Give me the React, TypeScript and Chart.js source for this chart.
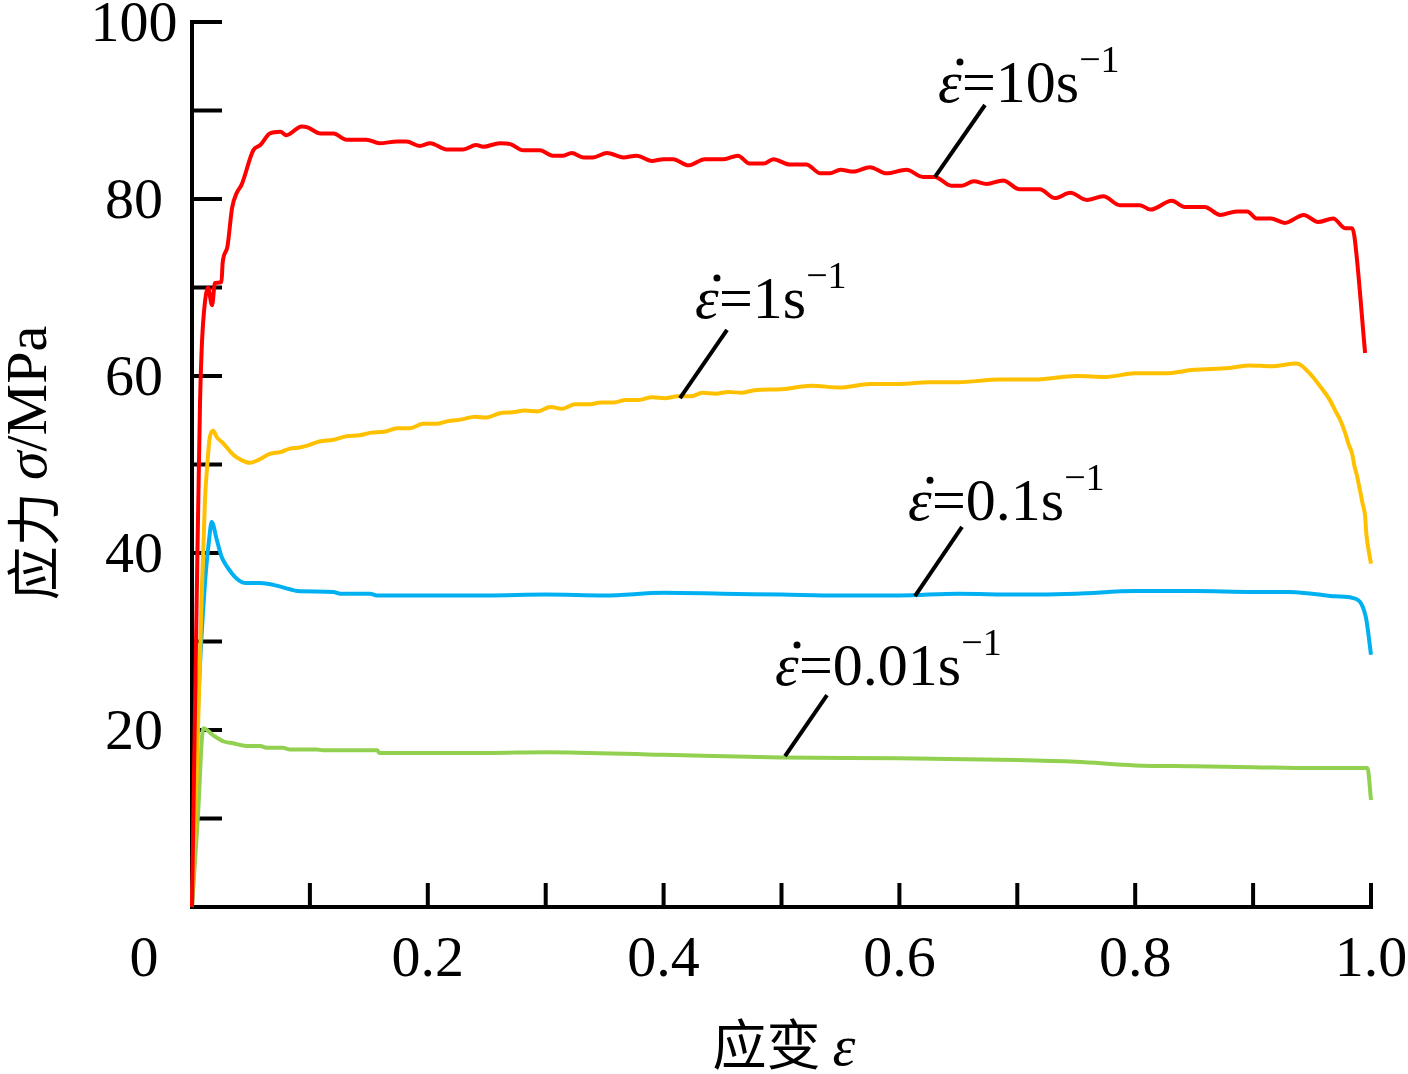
import { useEffect, useRef } from 'react';
import { Chart, registerables, Plugin } from 'chart.js';

Chart.register(...registerables);

// strain / stress pairs
const strain10 = [0, 0.004, 0.0068, 0.0082, 0.010, 0.0136, 0.017, 0.0195, 0.025, 0.026, 0.030, 0.034, 0.038, 0.042, 0.052, 0.058, 0.066, 0.075, 0.080, 0.093, 0.098, 0.109, 0.120, 0.131, 0.148, 0.159, 0.174, 0.182, 0.193, 0.202, 0.216, 0.230, 0.241, 0.247, 0.261, 0.270, 0.281, 0.295, 0.306, 0.315, 0.322, 0.332, 0.340, 0.352, 0.366, 0.377, 0.390, 0.400, 0.408, 0.421, 0.435, 0.451, 0.463, 0.473, 0.485, 0.493, 0.507, 0.521, 0.533, 0.541, 0.550, 0.561, 0.575, 0.589, 0.606, 0.620, 0.630, 0.644, 0.653, 0.663, 0.674, 0.688, 0.702, 0.719, 0.732, 0.745, 0.759, 0.773, 0.787, 0.804, 0.813, 0.831, 0.842, 0.859, 0.872, 0.886, 0.895, 0.903, 0.915, 0.927, 0.943, 0.955, 0.968, 0.978, 0.984, 0.986, 0.995];
const stress10 = [0, 35, 57, 63, 67, 70, 68, 70.5, 70.6, 72.8, 74.6, 79, 80.7, 81.6, 85.5, 86.1, 87.4, 87.6, 87.2, 88.2, 88.1, 87.4, 87.4, 86.7, 86.7, 86.3, 86.5, 86.5, 86.0, 86.3, 85.6, 85.6, 86.1, 85.9, 86.3, 86.2, 85.5, 85.5, 84.9, 84.9, 85.2, 84.7, 84.7, 85.2, 84.7, 84.9, 84.3, 84.5, 84.5, 83.8, 84.5, 84.5, 84.9, 84.0, 84.0, 84.5, 83.9, 83.9, 82.9, 82.9, 83.3, 83.1, 83.6, 82.9, 83.3, 82.5, 82.5, 81.5, 81.5, 82.0, 81.7, 82.1, 81.1, 81.1, 80.1, 80.7, 79.9, 80.3, 79.3, 79.3, 78.8, 79.8, 79.1, 79.1, 78.2, 78.6, 78.6, 77.8, 77.8, 77.3, 78.2, 77.4, 77.8, 76.7, 76.7, 75.7, 62.6];

const strain1 = [0, 0.004, 0.008, 0.011, 0.013, 0.015, 0.018, 0.021, 0.0265, 0.035, 0.042, 0.049, 0.056, 0.066, 0.075, 0.083, 0.090, 0.097, 0.108, 0.12, 0.131, 0.142, 0.152, 0.163, 0.174, 0.185, 0.196, 0.207, 0.217, 0.229, 0.240, 0.250, 0.261, 0.272, 0.282, 0.293, 0.304, 0.314, 0.325, 0.336, 0.347, 0.358, 0.368, 0.379, 0.390, 0.401, 0.412, 0.423, 0.433, 0.444, 0.455, 0.466, 0.477, 0.5, 0.525, 0.55, 0.575, 0.6, 0.625, 0.65, 0.685, 0.715, 0.75, 0.775, 0.8, 0.825, 0.85, 0.88, 0.897, 0.915, 0.937, 0.948, 0.957, 0.965, 0.970, 0.974, 0.978, 0.981, 0.984, 0.986, 0.988, 0.990, 0.993, 0.995, 0.996, 0.998, 1.0];
const stress1 = [0, 15, 34, 46, 50, 53, 53.8, 53.1, 52.4, 51.1, 50.5, 50.2, 50.5, 51.2, 51.4, 51.8, 51.9, 52.1, 52.6, 52.8, 53.2, 53.3, 53.6, 53.7, 54.1, 54.1, 54.6, 54.6, 54.9, 55.1, 55.4, 55.3, 55.8, 55.9, 56.1, 56.0, 56.5, 56.3, 56.8, 56.8, 57.0, 57.0, 57.3, 57.3, 57.6, 57.5, 57.7, 57.7, 58.1, 58.0, 58.2, 58.1, 58.4, 58.5, 58.9, 58.7, 59.1, 59.1, 59.3, 59.3, 59.6, 59.6, 60.0, 59.9, 60.3, 60.3, 60.7, 60.9, 61.2, 61.1, 61.4, 60.3, 58.8, 57.3, 56.0, 55.0, 53.6, 52.3, 51.2, 49.8, 48.8, 47.5, 45.5, 44.2, 42.2, 40.3, 38.8];

const strain01 = [0, 0.001, 0.0054, 0.011, 0.0145, 0.0167, 0.021, 0.025, 0.029, 0.038, 0.046, 0.058, 0.069, 0.083, 0.089, 0.12, 0.126, 0.151, 0.157, 0.25, 0.3, 0.35, 0.4, 0.45, 0.5, 0.55, 0.6, 0.65, 0.7, 0.75, 0.8, 0.85, 0.9, 0.93, 0.95, 0.97, 0.985, 0.992, 0.996, 1.0];
const stress01 = [0, 4.6, 23.4, 36.6, 41.5, 43.5, 41.5, 39.6, 38.6, 37.1, 36.6, 36.6, 36.4, 35.9, 35.7, 35.6, 35.4, 35.4, 35.2, 35.2, 35.3, 35.2, 35.5, 35.4, 35.3, 35.2, 35.2, 35.4, 35.3, 35.4, 35.7, 35.7, 35.6, 35.6, 35.4, 35.1, 34.9, 34.2, 32.5, 28.5];

const strain001 = [0, 0.005, 0.0096, 0.018, 0.027, 0.035, 0.046, 0.058, 0.063, 0.077, 0.083, 0.106, 0.111, 0.157, 0.159, 0.25, 0.3, 0.4, 0.5, 0.6, 0.7, 0.75, 0.8, 0.85, 0.9, 0.95, 0.997, 1.0];
const stress001 = [0, 10.2, 20.2, 19.4, 18.7, 18.5, 18.2, 18.2, 18.0, 18.0, 17.8, 17.8, 17.7, 17.7, 17.4, 17.4, 17.5, 17.2, 16.9, 16.8, 16.6, 16.4, 16.0, 15.9, 15.8, 15.7, 15.7, 12.1];

const xTickValues = [0.1, 0.2, 0.3, 0.4, 0.5, 0.6, 0.7, 0.8, 0.9, 1.0];
const xLabelValues = [0.2, 0.4, 0.6, 0.8, 1.0];
const xLabelTexts = ['0.2', '0.4', '0.6', '0.8', '1.0'];
const yTickValues = [10, 20, 30, 40, 50, 60, 70, 80, 90, 100];
const yLabelValues = [20, 40, 60, 80, 100];

const rateNames = ['10', '1', '0.1', '0.01'];
// label anchor (left of epsilon, baseline) and leader line ends, in data units
const labelAnchors = [[0.6327, 90.96], [0.4266, 66.55], [0.6073, 43.7], [0.4945, 25.08]];
const leaderLines = [
  [0.6726, 90.62, 0.6302, 82.49],
  [0.4538, 65.2, 0.4139, 57.51],
  [0.6531, 42.94, 0.6132, 35.14],
  [0.5386, 23.95, 0.503, 17.06],
];

const SERIF = '"Liberation Serif", "Times New Roman", serif';
const CJK = '"Noto Sans CJK SC", sans-serif';

const toPoints = (xs: number[], ys: number[]) => xs.map((v, i) => ({ x: v, y: ys[i] }));

const paperAxes: Plugin<'line'> = {
  id: 'paperAxes',
  beforeDatasetsDraw(chart) {
    const { ctx } = chart;
    const x = chart.scales.x;
    const y = chart.scales.y;
    const x0 = x.getPixelForValue(0);
    const y0 = y.getPixelForValue(0);
    ctx.save();
    ctx.strokeStyle = '#000';
    ctx.lineWidth = 4;
    ctx.beginPath();
    ctx.moveTo(x0, y.getPixelForValue(100) - 2);
    ctx.lineTo(x0, y0);
    ctx.lineTo(x.getPixelForValue(1) + 2, y0);
    ctx.stroke();

    // inward tick marks
    ctx.beginPath();
    yTickValues.forEach(v => {
      const py = y.getPixelForValue(v);
      ctx.moveTo(x0, py);
      ctx.lineTo(x0 + 30, py);
    });
    xTickValues.forEach(v => {
      const px = x.getPixelForValue(v);
      ctx.moveTo(px, y0);
      ctx.lineTo(px, y0 - 24);
    });
    ctx.stroke();

    ctx.fillStyle = '#000';
    ctx.font = `58px ${SERIF}`;
    ctx.textAlign = 'center';
    ctx.textBaseline = 'alphabetic';
    yLabelValues.forEach(v => {
      ctx.fillText(String(v), 134, y.getPixelForValue(v) + 19);
    });
    xLabelValues.forEach((v, i) => {
      ctx.fillText(xLabelTexts[i], x.getPixelForValue(v), y0 + 69);
    });
    ctx.fillText('0', 144, y0 + 69);

    // x title: 应变 ε
    ctx.textAlign = 'left';
    ctx.font = `54px ${CJK}`;
    const cn = '应变 ';
    const wCn = ctx.measureText(cn).width;
    ctx.font = `italic 58px ${SERIF}`;
    const wEps = ctx.measureText('ε').width;
    let tx = 784 - (wCn + wEps) / 2;
    ctx.font = `54px ${CJK}`;
    ctx.fillText(cn, tx, 1065);
    ctx.font = `italic 58px ${SERIF}`;
    ctx.fillText('ε', tx + wCn, 1065);

    // y title: 应力 σ/MPa
    ctx.translate(31, 463);
    ctx.rotate(-Math.PI / 2);
    ctx.font = `54px ${CJK}`;
    const cn2 = '应力 ';
    const w1 = ctx.measureText(cn2).width;
    ctx.font = `italic 58px ${SERIF}`;
    const w2 = ctx.measureText('σ').width;
    ctx.font = `58px ${SERIF}`;
    const w3 = ctx.measureText('/MPa').width;
    tx = -(w1 + w2 + w3) / 2;
    ctx.textBaseline = 'middle';
    ctx.font = `54px ${CJK}`;
    ctx.fillText(cn2, tx, 2);
    ctx.font = `italic 58px ${SERIF}`;
    ctx.fillText('σ', tx + w1, 0);
    ctx.font = `58px ${SERIF}`;
    ctx.fillText('/MPa', tx + w1 + w2, 0);
    ctx.restore();
  },
  afterDatasetsDraw(chart) {
    const { ctx } = chart;
    const x = chart.scales.x;
    const y = chart.scales.y;
    ctx.save();
    ctx.strokeStyle = '#000';
    ctx.fillStyle = '#000';
    ctx.lineWidth = 4;
    leaderLines.forEach(l => {
      ctx.beginPath();
      ctx.moveTo(x.getPixelForValue(l[0]), y.getPixelForValue(l[1]));
      ctx.lineTo(x.getPixelForValue(l[2]), y.getPixelForValue(l[3]));
      ctx.stroke();
    });
    ctx.textAlign = 'left';
    ctx.textBaseline = 'alphabetic';
    rateNames.forEach((name, i) => {
      const px = x.getPixelForValue(labelAnchors[i][0]);
      const py = y.getPixelForValue(labelAnchors[i][1]);
      ctx.font = `italic 60px ${SERIF}`;
      ctx.fillText('ε', px, py);
      ctx.beginPath();
      ctx.arc(px + 22, py - 40, 3.5, 0, Math.PI * 2);
      ctx.fill();
      ctx.font = `60px ${SERIF}`;
      let cx = px + 24;
      ctx.fillText('=', cx, py);
      cx += ctx.measureText('=').width;
      ctx.fillText(name + 's', cx, py);
      cx += ctx.measureText(name + 's').width;
      ctx.font = `38px ${SERIF}`;
      ctx.fillText('\u22121', cx, py - 30);
    });
    ctx.restore();
  },
};

export default function App() {
  const chartRef = useRef<HTMLCanvasElement>(null);
  const chartInstance = useRef<Chart | null>(null);

  useEffect(() => {
    document.body.style.margin = '0';
    if (!chartRef.current) return;
    if (chartInstance.current) chartInstance.current.destroy();

    const line = (label: string, xs: number[], ys: number[], color: string) => ({
      label,
      data: toPoints(xs, ys),
      borderColor: color,
      backgroundColor: color,
      borderWidth: 4,
      pointRadius: 0,
      cubicInterpolationMode: 'monotone' as const,
      clip: false as const,
    });

    const chart = new Chart(chartRef.current, {
      type: 'line',
      data: {
        datasets: [
          line('10 s-1', strain10, stress10, '#FF0000'),
          line('1 s-1', strain1, stress1, '#FFC000'),
          line('0.1 s-1', strain01, stress01, '#00B0F0'),
          line('0.01 s-1', strain001, stress001, '#92D050'),
        ],
      },
      options: {
        responsive: false,
        animation: false,
        layout: { padding: { left: 192, top: 22, right: 37, bottom: 167 } },
        plugins: { legend: { display: false }, tooltip: { enabled: false } },
        scales: {
          x: { type: 'linear', min: 0, max: 1, display: false },
          y: { type: 'linear', min: 0, max: 100, display: false },
        },
      },
      plugins: [paperAxes],
    });
    chartInstance.current = chart;

    // redraw once the local fonts are surely available to the canvas
    Promise.all([
      document.fonts.load('58px "Liberation Serif"'),
      document.fonts.load('italic 58px "Liberation Serif"'),
      document.fonts.load('54px "Noto Sans CJK SC"', '应力变'),
    ]).then(() => {
      if (chartInstance.current === chart) chart.draw();
    }).catch(() => {});

    return () => {
      chart.destroy();
      if (chartInstance.current === chart) chartInstance.current = null;
    };
  }, []);

  return (
    <div style={{ width: 1408, height: 1074, background: '#fff' }}>
      <canvas ref={chartRef} width={1408} height={1074} style={{ display: 'block' }} />
    </div>
  );
}
